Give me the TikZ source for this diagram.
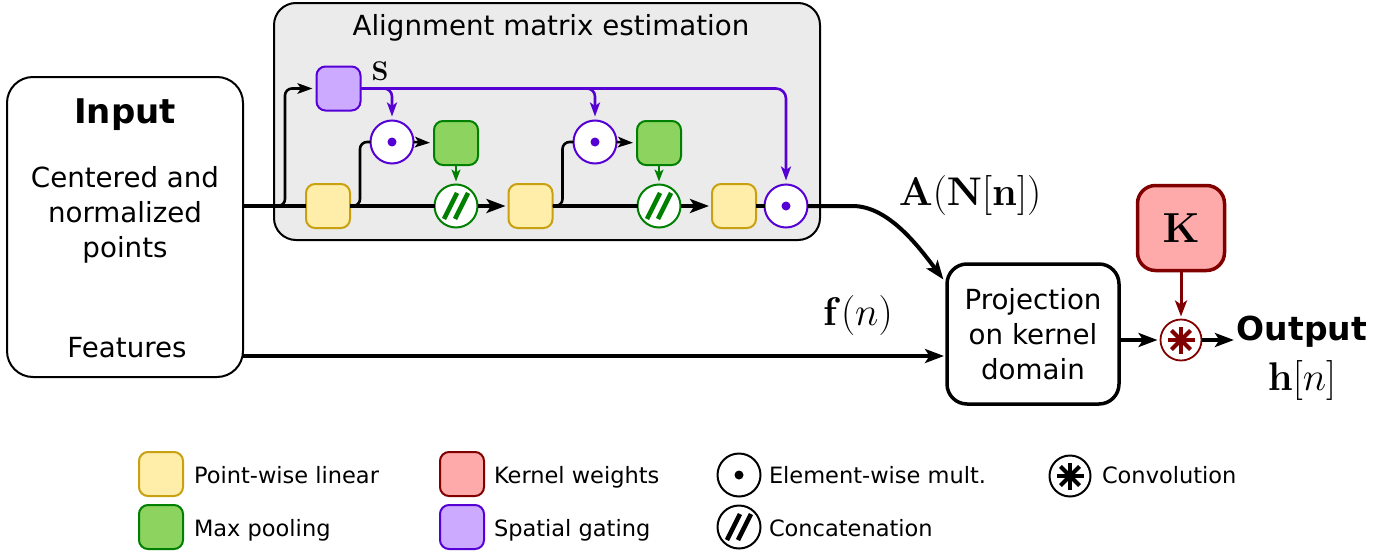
\RequirePackage{fix-cm}
\documentclass[tikz,border=0pt]{standalone}
\usepackage[no-math]{fontspec}
\setmainfont{DejaVu Sans}
\usetikzlibrary{arrows.meta,calc}
\definecolor{linF}{HTML}{FFEEAA}
\definecolor{linD}{HTML}{C8A010}
\definecolor{poolF}{HTML}{8DD35F}
\definecolor{poolD}{HTML}{008000}
\definecolor{gateF}{HTML}{CCAAFF}
\definecolor{gateD}{HTML}{5500D4}
\definecolor{kerF}{HTML}{FFAAAA}
\definecolor{kerD}{HTML}{800000}
\definecolor{panel}{HTML}{EBEBEB}
\tikzset{
  every node/.style={inner sep=0pt, outer sep=0pt},
  txt/.style={font=\fontsize{27.7}{35}\selectfont, anchor=base},
  legtxt/.style={font=\fontsize{22.5}{27}\selectfont, anchor=base west},
  mathlbl/.style={font=\fontsize{40}{48}\selectfont, anchor=base},
  blk/.style={rectangle, rounded corners=9pt, minimum width=44pt, minimum height=44pt, line width=2pt, draw},
  lin/.style={blk, fill=linF, draw=linD},
  pool/.style={blk, fill=poolF, draw=poolD},
  gate/.style={blk, fill=gateF, draw=gateD},
  kern/.style={blk, fill=kerF, draw=kerD},
  emult/.style={circle, minimum size=43pt, line width=2pt, draw=#1, fill=white,
    path picture={\fill[#1] (path picture bounding box.center) circle (4.5pt);}},
  concat/.style={circle, minimum size=43pt, line width=2pt, draw=#1, fill=white,
    path picture={
      \draw[#1, line width=4.5pt] ($(path picture bounding box.center)+(-12,13)$) -- ++(13,-26);
      \draw[#1, line width=4.5pt] ($(path picture bounding box.center)+(-1,13)$) -- ++(13,-26);}},
  convop/.style 2 args={circle, minimum size=41pt, line width=#2, draw=#1, fill=white,
    path picture={
      \foreach \a in {0,45,90,135}
        \draw[#1, line width=4pt] ($(path picture bounding box.center)+(\a:13.5)$) -- ($(path picture bounding box.center)+(\a+180:13.5)$);}},
  mline/.style={line width=4pt, black},
  bline/.style={line width=2.6pt, black},
  pline/.style={line width=2.6pt, gateD},
  bigtip/.style={-{Stealth[length=19pt,width=14pt,inset=4.5pt]}, shorten >=3pt},
  smalltip/.style={-{Stealth[length=15pt,width=10.5pt,inset=3.5pt]}, shorten >=4pt},
  ptip/.style={-{Stealth[length=14pt,width=10pt,inset=3.5pt]}, shorten >=4pt},
}
\begin{document}
\begin{tikzpicture}[x=1pt,y=-1pt]
\useasboundingbox (0,0) rectangle (1400,554);

% panels
\node[draw, line width=2pt, rounded corners=22pt, fill=panel, minimum width=546pt, minimum height=237pt] (align) at (547,121.5) {};
\node[txt] (title) at (551,35) {Alignment matrix estimation};

\node[draw, line width=2pt, rounded corners=26pt, fill=white, minimum width=236pt, minimum height=300pt] (input) at (125,227) {};
\node[font=\fontsize{34}{40}\selectfont\bfseries, anchor=base] (inT) at (125,123) {Input};
\node[txt] (inA) at (125,187) {Centered and};
\node[txt] (inB) at (125,222) {normalized};
\node[txt] (inC) at (125,257) {points};
\node[txt] (inF) at (127,357) {Features};

% inner blocks
\node[gate] (S) at (338.5,88.5) {};
\node[font=\fontsize{27}{32}\selectfont, anchor=base] (Slbl) at (380,80) {$\mathbf{S}$};
\node[lin] (y1) at (328,206) {};
\node[lin] (y2) at (530.5,206) {};
\node[lin] (y3) at (734,206) {};
\node[emult=gateD] (o1) at (392,142) {};
\node[emult=gateD] (o2) at (595,142) {};
\node[emult=gateD] (oF) at (786,206) {};
\node[pool] (g1) at (456,143) {};
\node[pool] (g2) at (659,143) {};
\node[concat=poolD] (c1) at (456,206) {};
\node[concat=poolD] (c2) at (659,206) {};

% right part
\node[draw, line width=3.5pt, rounded corners=20pt, fill=white, minimum width=172pt, minimum height=140pt,
      align=center, font=\fontsize{27.7}{35}\selectfont] (proj) at (1033,334) {Projection\\on kernel\\domain};
\node[kern, line width=3.5pt, rounded corners=18pt, minimum width=87pt, minimum height=85pt,
      font=\fontsize{42}{48}\selectfont] (K) at (1181,228) {$\mathbf{K}$};
\node[convop={kerD}{1.8pt}] (conv) at (1181,340) {};
\node[font=\fontsize{33}{40}\selectfont\bfseries, anchor=base] (out) at (1302,340) {Output};
\node[mathlbl] (hn) at (1302,390) {$\mathbf{h}[n]$};
\node[mathlbl] (Albl) at (970,205) {$\mathbf{A}(\mathbf{N}[\mathbf{n}])$};
\node[mathlbl] (flbl) at (858,325) {$\mathbf{f}(n)$};

% main black line
\draw[mline] (input.east |- y1) -- (y1.west);
\draw[mline] (y1.east) -- (c1.west);
\draw[mline, bigtip] (c1.east) -- (y2.west);
\draw[mline] (y2.east) -- (c2.west);
\draw[mline, bigtip] (c2.east) -- (y3.west);
\draw[mline] (y3.east) -- (oF.west);
\draw[mline, bigtip, shorten >=6pt] (oF.east) -- ++(45,0) .. controls +(35,0) and +(-30,-40) .. (proj.150);

% branches
\coordinate (j1) at (285,206);
\draw[bline, smalltip, rounded corners=7pt] ($(j1)+(-10,0)$) -- (j1) |- (S.west);
\draw[bline, rounded corners=7pt] (y1.east) -- ++(10,0) |- (o1.west);
\draw[bline, rounded corners=7pt] (y2.east) -- ++(10,0) |- (o2.west);
\draw[bline, smalltip] (o1.east) -- (g1.west);
\draw[bline, smalltip] (o2.east) -- (g2.west);
\draw[line width=2pt, poolD, -{Stealth[length=12pt,width=9pt,inset=3pt]}, shorten >=3pt] (g1.south) -- (c1.north);
\draw[line width=2pt, poolD, -{Stealth[length=12pt,width=9pt,inset=3pt]}, shorten >=3pt] (g2.south) -- (c2.north);

% gating lines
\draw[pline, ptip, rounded corners=10pt] (S.east) -| (oF.north);
\draw[pline, ptip, rounded corners=8pt] (S.east) -| (o1.north);
\draw[pline, ptip, rounded corners=8pt] (S.east) -| (o2.north);

% features line
\coordinate (fy) at (600,356);
\draw[mline, bigtip] (input.east |- fy) -- (proj.west |- fy);

% output part
\draw[line width=3.5pt, bigtip] (conv -| proj.east) -- (conv.west);
\draw[line width=3.5pt, bigtip] (conv.east) -- (conv.east -| out.west);
\draw[line width=3pt, kerD, -{Stealth[length=16pt,width=12pt,inset=4pt]}, shorten >=3pt] (K.south) -- (conv.north);

% legend
\node[lin] (Llin) at (161,474) {};
\node[legtxt] (Tlin) at (194,483) {Point-wise linear};
\node[pool] (Lpool) at (161,527) {};
\node[legtxt] (Tpool) at (194,536) {Max pooling};
\node[kern] (Lker) at (462,474) {};
\node[legtxt] (Tker) at (494,483) {Kernel weights};
\node[gate] (Lgate) at (462,527) {};
\node[legtxt] (Tgate) at (494,536) {Spatial gating};
\node[emult=black] (Lemul) at (739,475) {};
\node[legtxt] (Temul) at (769,483) {Element-wise mult.};
\node[concat=black] (Lcat) at (739,527) {};
\node[legtxt] (Tcat) at (769,536) {Concatenation};
\node[convop={black}{2pt}] (Lconv) at (1070,476) {};
\node[legtxt] (Tconv) at (1102,483) {Convolution};
\end{tikzpicture}
\end{document}
